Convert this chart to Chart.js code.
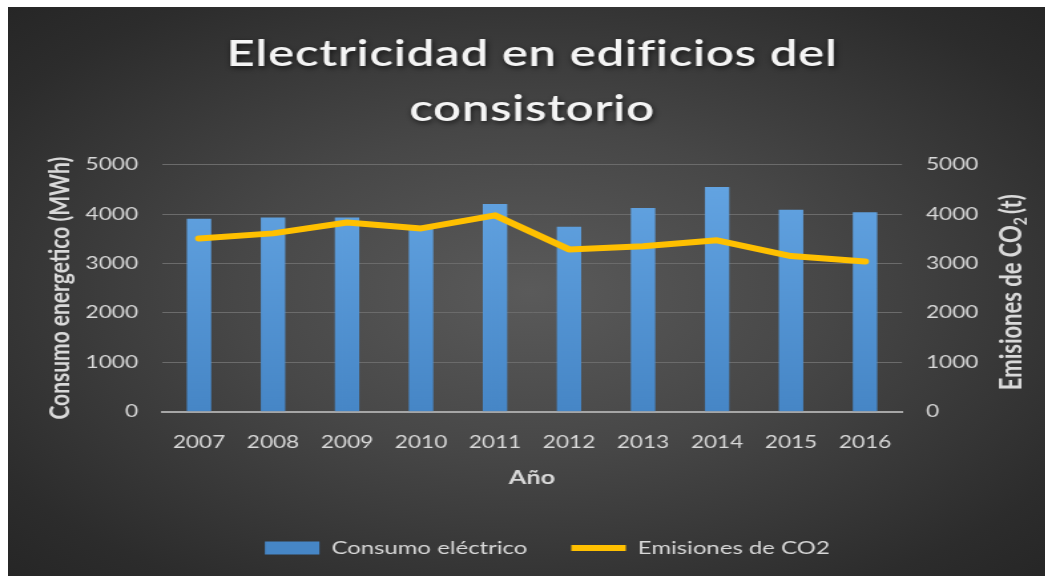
<!DOCTYPE html>
<html>
<head>
<meta charset="utf-8">
<script src="https://cdn.jsdelivr.net/npm/chart.js@4.4.1/dist/chart.umd.min.js"></script>
<style>
  html, body { margin: 0; padding: 0; background: #ffffff; overflow: hidden; }
  #bg {
    position: absolute; left: 8px; top: 7px; width: 1044px; height: 569px;
    background: radial-gradient(ellipse at 50% 50%, #5a5a5a 0%, #474747 40%, #2c2c2c 85%, #262626 100%);
    overflow: hidden;
  }
  #chart { display: block; transform: scaleX(1.33); transform-origin: 0 0; }
</style>
</head>
<body>
<div id="bg"><canvas id="chart" width="785" height="569"></canvas></div>
<script>
const years = ["2007", "2008", "2009", "2010", "2011", "2012", "2013", "2014", "2015", "2016"]
const consumo = [3905, 3930, 3930, 3700, 4205, 3745, 4125, 4550, 4090, 4035]
const emisiones = [3505, 3610, 3830, 3710, 3975, 3285, 3350, 3470, 3150, 3040]
const titleLines = ["Electricidad en edificios del", "consistorio"]

const textColor = "#d9d9d9"

// chart title with a soft shadow and a bit of tracking, like the original
const bigTitle = {
  id: "bigTitle",
  afterDraw(chart) {
    const ctx = chart.ctx
    const area = chart.chartArea
    const cx = (area.left + area.right) / 2
    ctx.save()
    ctx.font = "600 37px Lato"
    ctx.letterSpacing = "0.5px"
    ctx.fillStyle = "#f4f4f4"
    ctx.textAlign = "center"
    ctx.textBaseline = "alphabetic"
    ctx.shadowColor = "rgba(0,0,0,0.65)"
    ctx.shadowBlur = 5
    ctx.shadowOffsetX = 1
    ctx.shadowOffsetY = 2
    ctx.fillText(titleLines[0], cx, 59)
    ctx.fillText(titleLines[1], cx, 114)
    ctx.restore()
  }
}

// right axis title reads bottom-to-top with a subscript, drawn by hand
const rightTitle = {
  id: "rightTitle",
  afterDraw(chart) {
    const ctx = chart.ctx
    const area = chart.chartArea
    const big = "bold 22px Lato"
    const small = "bold 14px Lato"
    ctx.save()
    ctx.font = big
    const w1 = ctx.measureText("Emisiones de CO").width
    const w3 = ctx.measureText("(t)").width
    ctx.font = small
    const w2 = ctx.measureText("2").width + 3
    const total = w1 + w2 + w3
    ctx.translate(755, (area.top + area.bottom) / 2 + 4)
    ctx.rotate(-Math.PI / 2)
    ctx.fillStyle = textColor
    ctx.textBaseline = "middle"
    ctx.textAlign = "left"
    let x = -total / 2
    ctx.font = big
    ctx.fillText("Emisiones de CO", x, 0)
    x += w1
    ctx.font = small
    ctx.fillText("2", x, 6)
    x += w2
    ctx.font = big
    ctx.fillText("(t)", x, 0)
    ctx.restore()
  }
}

const barFill = (c) => {
  const area = c.chart.chartArea
  if (!area) return "#5b9bd5"
  const g = c.chart.ctx.createLinearGradient(0, area.top, 0, area.bottom)
  g.addColorStop(0, "#65a6e4")
  g.addColorStop(1, "#4686c6")
  return g
}

const plainTick = (v) => String(v)

new Chart(document.getElementById("chart"), {
  data: {
    labels: years,
    datasets: [{
      type: "bar",
      label: "Consumo eléctrico",
      data: consumo,
      backgroundColor: barFill,
      borderWidth: 0,
      barPercentage: 0.33,
      categoryPercentage: 1,
      yAxisID: "y",
      pointStyle: "rect",
      order: 2,
    }, {
      type: "line",
      label: "Emisiones de CO2",
      data: emisiones,
      borderColor: "#ffc000",
      backgroundColor: "#ffc000",
      borderWidth: 6,
      borderCapStyle: "round",
      borderJoinStyle: "round",
      pointRadius: 0,
      pointStyle: "line",
      tension: 0,
      yAxisID: "y2",
      order: 1,
    }],
  },
  options: {
    responsive: false,
    animation: false,
    devicePixelRatio: 1,
    layout: {
      padding: { left: 26, right: 0, top: 157.7, bottom: 9 }
    },
    plugins: {
      title: { display: false },
      legend: {
        position: "bottom",
        labels: {
          color: textColor,
          font: { family: "Lato", size: 18 },
          usePointStyle: true,
          pointStyleWidth: 41,
          boxWidth: 41,
          boxHeight: 13,
          padding: 33,
          sort: (a, b) => a.datasetIndex - b.datasetIndex,
        },
      },
      tooltip: { enabled: false },
    },
    scales: {
      x: {
        afterFit: (s) => { s.height = 94.3 },
        grid: { display: false },
        border: { display: true, color: "#a6a6a6", width: 2 },
        ticks: {
          color: textColor,
          font: { family: "Lato", size: 17 },
          padding: 13,
        },
        title: {
          display: true,
          text: "Año",
          color: textColor,
          font: { family: "Lato", size: 19, weight: "bold" },
          padding: { top: 0, bottom: 17 },
        },
      },
      y: {
        position: "left",
        min: 0,
        max: 5000,
        afterFit: (s) => { s.width = 89.8 },
        grid: { color: "#6b6b6b", drawTicks: false },
        border: { display: false },
        ticks: {
          stepSize: 1000,
          color: textColor,
          font: { family: "Lato", size: 17 },
          padding: 18,
          callback: plainTick,
        },
        title: {
          display: true,
          text: "Consumo energetico (MWh)",
          color: textColor,
          font: { family: "Lato", size: 21, weight: "bold" },
          padding: { top: 1, bottom: 0 },
        },
      },
      y2: {
        position: "right",
        min: 0,
        max: 5000,
        afterFit: (s) => { s.width = 112.8 },
        grid: { display: false, drawTicks: false },
        border: { display: false },
        ticks: {
          stepSize: 1000,
          color: textColor,
          font: { family: "Lato", size: 17 },
          padding: 18,
          callback: plainTick,
        },
      },
    },
  },
  plugins: [bigTitle, rightTitle],
})
</script>
</body>
</html>
